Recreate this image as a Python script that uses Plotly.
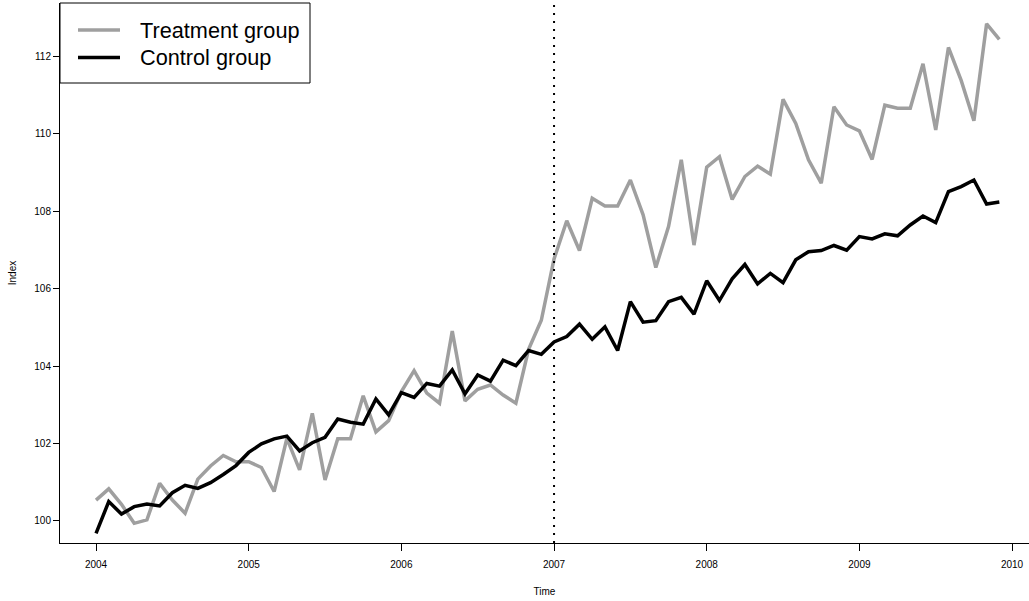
import plotly.graph_objects as go

start_year = 2004
n_months = 72
time = [start_year + k / 12 for k in range(n_months)]

treatment = [
    100.54, 100.83, 100.43, 99.94, 100.03, 100.97, 100.54, 100.20, 101.08, 101.42, 101.69, 101.53,
    101.53, 101.38, 100.76, 102.13, 101.32, 102.78, 101.06, 102.12, 102.12, 103.23, 102.30, 102.59,
    103.34, 103.88, 103.30, 103.04, 104.90, 103.10, 103.40, 103.51, 103.25, 103.04, 104.43, 105.18,
    106.76, 107.75, 106.98, 108.33, 108.13, 108.13, 108.80, 107.90, 106.54, 107.60, 109.32, 107.12,
    109.13, 109.40, 108.30, 108.89, 109.16, 108.95, 110.88, 110.26, 109.32, 108.72, 110.69, 110.22,
    110.07, 109.33, 110.73, 110.65, 110.65, 111.80, 110.09, 112.22, 111.37, 110.33, 112.83, 112.43,
]
control = [
    99.68, 100.50, 100.18, 100.37, 100.44, 100.39, 100.73, 100.92, 100.84, 100.99, 101.20, 101.43,
    101.77, 101.99, 102.12, 102.19, 101.81, 102.02, 102.16, 102.63, 102.55, 102.50, 103.15, 102.74,
    103.31, 103.19, 103.55, 103.48, 103.90, 103.28, 103.77, 103.61, 104.15, 104.01, 104.40, 104.30,
    104.62, 104.76, 105.08, 104.69, 105.01, 104.40, 105.66, 105.13, 105.17, 105.66, 105.77, 105.34,
    106.20, 105.69, 106.25, 106.62, 106.12, 106.39, 106.15, 106.74, 106.95, 106.98, 107.11, 106.99,
    107.34, 107.28, 107.41, 107.36, 107.64, 107.87, 107.70, 108.50, 108.63, 108.80, 108.18, 108.23,
]
series_names = ["Treatment group", "Control group"]
series_colors = ["#9f9f9f", "#000000"]
intervention_year = 2007
x_ticks = [2004, 2005, 2006, 2007, 2008, 2009, 2010]
y_ticks = [100, 102, 104, 106, 108, 110, 112]

FONT = "Liberation Sans, Arial, Helvetica, sans-serif"
W, H = 1029, 601
ML, MR, MT, MB = 60, 0, 3, 58
PW, PH = W - ML - MR, H - MT - MB


def px_x(p):
    return (p - ML) / PW


def px_y(p):
    return (H - MB - p) / PH


fig = go.Figure()
for vals, name, col in zip([treatment, control], series_names, series_colors):
    fig.add_trace(go.Scatter(x=time, y=vals, mode="lines", name=name,
                             line=dict(color=col, width=3.5)))

fig.add_shape(type="line", xref="x", yref="paper", x0=intervention_year, x1=intervention_year,
              y0=0, y1=1, line=dict(color="black", width=2, dash="2px,6px"))

# legend (box, line samples, labels)
fig.add_shape(type="rect", xref="paper", yref="paper", x0=px_x(60), x1=px_x(310),
              y0=px_y(83), y1=px_y(3), line=dict(color="black", width=1), fillcolor="white",
              layer="above")
for i, (name, col) in enumerate(zip(series_names, series_colors)):
    yy = px_y(30 + 27.5 * i)
    fig.add_shape(type="line", xref="paper", yref="paper", x0=px_x(78), x1=px_x(120),
                  y0=yy, y1=yy, line=dict(color=col, width=3.5), layer="above")
    fig.add_annotation(xref="paper", yref="paper", x=px_x(138), y=yy, text=name,
                       showarrow=False, xanchor="left", yanchor="middle",
                       font=dict(size=21.7, family=FONT, color="black"))

fig.update_layout(
    width=W, height=H,
    margin=dict(l=ML, r=MR, t=MT, b=MB),
    paper_bgcolor="white", plot_bgcolor="white",
    font=dict(family=FONT, color="black", size=10),
    showlegend=False,
    xaxis=dict(range=[2003.764, 2010.111], tickvals=x_ticks, ticktext=[str(v) for v in x_ticks],
               showgrid=False, zeroline=False, showline=True, linecolor="black", linewidth=1,
               ticks="outside", ticklen=7, tickcolor="black", tickfont=dict(size=10),
               ticklabelstandoff=5, automargin=False,
               title=dict(text="Time", font=dict(size=10), standoff=18)),
    yaxis=dict(range=[99.432, 113.368], tickvals=y_ticks, ticktext=[str(v) for v in y_ticks],
               showgrid=False, zeroline=False, showline=True, linecolor="black", linewidth=1,
               ticks="outside", ticklen=6, tickcolor="black", tickfont=dict(size=10),
               automargin=False,
               title=dict(text="Index", font=dict(size=10), standoff=15)),
)

fig.write_html("out.html", config={"displayModeBar": False},
               post_script="document.body.style.margin='0px';document.body.style.overflow='hidden';")
